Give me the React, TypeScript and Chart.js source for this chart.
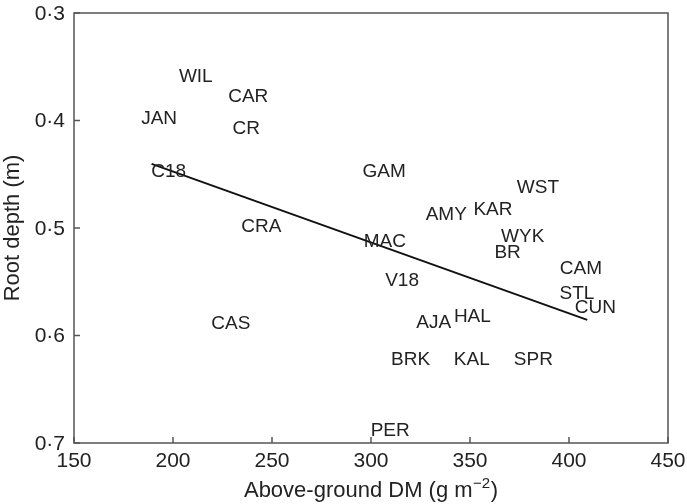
import React, { useEffect, useRef } from "react";
import { Chart, registerables } from "chart.js";

Chart.register(...registerables);

const siteLabels = ["WIL", "CAR", "JAN", "CR", "C18", "CRA", "GAM", "WST", "AMY", "KAR", "MAC", "WYK", "BR", "CAM", "V18", "STL", "CUN", "AJA", "HAL", "CAS", "BRK", "KAL", "SPR", "PER"];
const aboveGroundDM = [211.5, 238, 193, 237, 197.8, 244.6, 306.6, 384.3, 338, 361.6, 307, 376.6, 369, 406, 315.7, 404, 413.3, 331.7, 351.2, 229.2, 320, 350.9, 382, 309.7];
const rootDepth = [0.359, 0.378, 0.398, 0.408, 0.448, 0.499, 0.448, 0.463, 0.488, 0.483, 0.5125, 0.508, 0.523, 0.538, 0.549, 0.5615, 0.574, 0.588, 0.583, 0.589, 0.623, 0.623, 0.623, 0.689];
const fitX = [189.2, 409.2];
const fitY = [0.4404, 0.5855];
const xTicks = [150, 200, 250, 300, 350, 400, 450];
const yTicks = [0.3, 0.4, 0.5, 0.6, 0.7];

const FONT = "'Liberation Sans', Arial, Helvetica, sans-serif";
const AXIS_COLOR = "#555";
const TEXT_COLOR = "#222";

export default function App() {
  const ref = useRef<HTMLCanvasElement>(null);

  useEffect(() => {
    document.body.style.margin = "0";
    const canvas = ref.current!;
    const frame = {
      id: "frame",
      afterDraw(chart: any) {
        const ctx = chart.ctx;
        const { left, right, top, bottom } = chart.chartArea;
        const xs = chart.scales.x;
        const ys = chart.scales.y;
        ctx.save();
        ctx.strokeStyle = AXIS_COLOR;
        ctx.lineWidth = 1.5;
        ctx.strokeRect(left, top, right - left, bottom - top);
        ctx.beginPath();
        for (const v of xTicks) {
          const px = xs.getPixelForValue(v);
          ctx.moveTo(px, bottom);
          ctx.lineTo(px, bottom - 6);
        }
        for (const v of yTicks) {
          const py = ys.getPixelForValue(v);
          ctx.moveTo(left, py);
          ctx.lineTo(left + 6, py);
        }
        ctx.stroke();

        // tick labels
        ctx.fillStyle = TEXT_COLOR;
        ctx.font = `21px ${FONT}`;
        ctx.textAlign = "center";
        ctx.textBaseline = "middle";
        for (const v of xTicks) {
          ctx.fillText(String(v), xs.getPixelForValue(v), bottom + 18);
        }
        ctx.textAlign = "right";
        for (const v of yTicks) {
          ctx.fillText(v.toFixed(1).replace(".", "\u00b7"), left - 9, ys.getPixelForValue(v) + 1);
        }

        // x title with superscript
        ctx.textBaseline = "alphabetic";
        ctx.textAlign = "left";
        const main = "Above-ground DM (g m";
        const sup = "\u22122";
        const close = ")";
        ctx.font = `22px ${FONT}`;
        const w1 = ctx.measureText(main).width;
        const w3 = ctx.measureText(close).width;
        ctx.font = `15px ${FONT}`;
        const w2 = ctx.measureText(sup).width;
        const total = w1 + w2 + w3 + 1;
        const cx = (left + right) / 2;
        const x0 = cx - total / 2;
        const base = 497;
        ctx.font = `22px ${FONT}`;
        ctx.fillText(main, x0, base);
        ctx.font = `15px ${FONT}`;
        ctx.fillText(sup, x0 + w1 + 0.5, base - 9);
        ctx.font = `22px ${FONT}`;
        ctx.fillText(close, x0 + w1 + w2 + 1, base);

        // y title
        ctx.save();
        ctx.translate(13, (top + bottom) / 2);
        ctx.rotate(-Math.PI / 2);
        ctx.textAlign = "center";
        ctx.textBaseline = "middle";
        ctx.font = `22px ${FONT}`;
        ctx.fillText("Root depth (m)", 0, 0);
        ctx.restore();
        ctx.restore();
      },
      afterDatasetsDraw(chart: any) {
        const ctx = chart.ctx;
        const meta = chart.getDatasetMeta(0);
        ctx.save();
        ctx.fillStyle = TEXT_COLOR;
        ctx.font = `19px ${FONT}`;
        ctx.textAlign = "center";
        ctx.textBaseline = "middle";
        meta.data.forEach((el: any, i: number) => {
          ctx.fillText(siteLabels[i], el.x, el.y);
        });
        ctx.restore();
      },
    };

    const chart = new Chart(canvas, {
      type: "scatter",
      data: {
        datasets: [
          {
            label: "sites",
            data: aboveGroundDM.map((x, i) => ({ x, y: rootDepth[i] })),
            pointRadius: 0,
            showLine: false,
          },
          {
            label: "fit",
            data: fitX.map((x, i) => ({ x, y: fitY[i] })),
            showLine: true,
            borderColor: "#111",
            borderWidth: 2,
            pointRadius: 0,
          },
        ],
      },
      options: {
        responsive: false,
        animation: false,
        layout: { padding: { left: 0, right: 19, top: 13, bottom: 0 } },
        plugins: { legend: { display: false }, tooltip: { enabled: false } },
        scales: {
          x: {
            type: "linear",
            min: 150,
            max: 450,
            grid: { display: false },
            border: { display: false },
            afterBuildTicks: (s: any) => { s.ticks = xTicks.map((v) => ({ value: v })); },
            afterFit: (s: any) => { s.height = 61; },
            ticks: { display: false },
          },
          y: {
            type: "linear",
            min: 0.3,
            max: 0.7,
            reverse: true,
            grid: { display: false },
            border: { display: false },
            afterBuildTicks: (s: any) => { s.ticks = yTicks.map((v) => ({ value: v })); },
            afterFit: (s: any) => { s.width = 74; },
            ticks: { display: false },
          },
        },
      },
      plugins: [frame],
    });
    return () => chart.destroy();
  }, []);

  return (
    <div style={{ position: "absolute", left: 0, top: 0, width: 687, height: 504, background: "#fff" }}>
      <canvas ref={ref} width={687} height={504} />
    </div>
  );
}
